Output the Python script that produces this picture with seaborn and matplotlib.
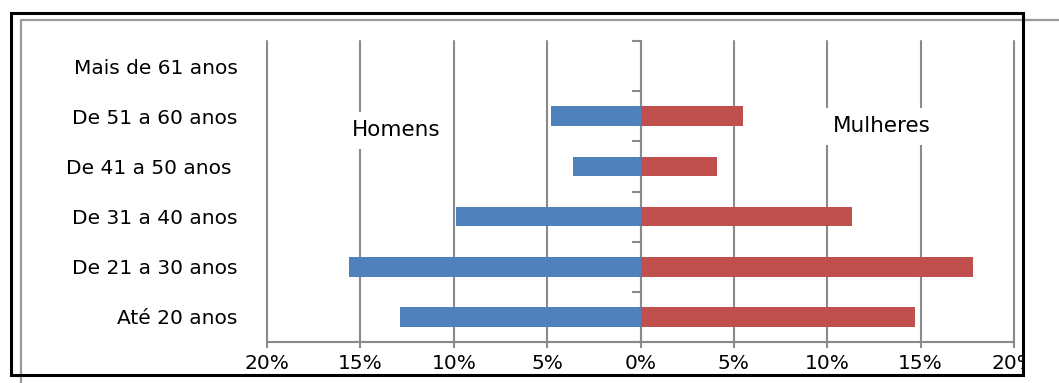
import numpy as np
import pandas as pd
import matplotlib
matplotlib.use("Agg")
import matplotlib.pyplot as plt
import seaborn as sns
from matplotlib.ticker import FuncFormatter
from matplotlib.patches import Rectangle
from matplotlib.lines import Line2D

categories = ["Mais de 61 anos", "De 51 a 60 anos", "De 41 a 50 anos ",
              "De 31 a 40 anos", "De 21 a 30 anos", "Até 20 anos"]
homens = [0.0, 4.8, 3.6, 9.9, 15.6, 12.9]
mulheres = [0.0, 5.5, 4.1, 11.3, 17.8, 14.7]
xticks = [-20, -15, -10, -5, 0, 5, 10, 15, 20]
groups = ["Homens", "Mulheres"]
colors = {"Homens": "#4F81BD", "Mulheres": "#C0504D"}

sns.set_theme(style="white")
plt.rcParams["font.family"] = ["DejaVu Sans"]

W, H = 1059, 383
fig = plt.figure(figsize=(W / 100, H / 100), dpi=100)
ax = fig.add_axes([267 / W, 1 - 342 / H, (1014 - 267) / W, (342 - 41) / H])

df = pd.DataFrame({
    "cat": categories * 2,
    "val": [-v for v in homens] + mulheres,
    "sexo": [groups[0]] * len(categories) + [groups[1]] * len(categories),
})
sns.barplot(data=df, y="cat", x="val", hue="sexo", order=categories,
            palette=colors, dodge=False, width=0.39, ax=ax, legend=False,
            saturation=1, linewidth=0)

grid_c = "#8a8a8a"
ax.set_xlim(-20, 20)
ax.set_ylim(len(categories) - 0.5, -0.5)
ax.set_xticks(xticks)
ax.xaxis.set_major_formatter(FuncFormatter(lambda v, p: f"{abs(int(round(v)))}%"))
ax.set_axisbelow(True)
ax.xaxis.grid(True, color=grid_c, linewidth=1.5)
ax.yaxis.grid(False)
for gl in ax.get_xgridlines():
    gl.set_clip_on(False)
for s in ["left", "right", "top"]:
    ax.spines[s].set_visible(False)
ax.spines["bottom"].set_color(grid_c)
ax.spines["bottom"].set_linewidth(1.5)
ax.tick_params(axis="x", direction="out", length=4.5, width=1.5, color=grid_c,
               labelsize=14.5, pad=4, labelcolor="black", bottom=True)
ax.tick_params(axis="y", length=0, labelsize=14.5, pad=21, labelcolor="black")
ax.set_xlabel("")
ax.set_ylabel("")

sec = ax.secondary_yaxis(0.5)
sec.set_yticks(np.arange(-0.5, len(categories), 1.0))
sec.set_yticklabels([])
sec.yaxis.set_ticks_position("left")
sec.tick_params(axis="y", direction="out", length=6.5, width=1.5, color=grid_c)
for s in sec.spines.values():
    s.set_color(grid_c)
    s.set_linewidth(1.5)

box = dict(boxstyle="square,pad=0.4", facecolor="white", edgecolor="none")
ax.text(-13.1, 1.28, groups[0], ha="center", va="center", fontsize=15.5,
        color="black", bbox=box, zorder=5)
ax.text(12.9, 1.2, groups[1], ha="center", va="center", fontsize=15.5,
        color="black", bbox=box, zorder=5)

# cover beyond the right frame (clips the last tick label)
fig.patches.append(Rectangle((1024.5 / W, 0), (W - 1024.5) / W, 1 - 22 / H,
                             transform=fig.transFigure, facecolor="white",
                             edgecolor="none", zorder=10))
# grey outer chart border
fig.lines.append(Line2D([21 / W, 21 / W, 1.0], [0.0, 1 - 20 / H, 1 - 20 / H],
                        transform=fig.transFigure, color="#9a9a9a",
                        linewidth=1.6, zorder=11))
# black frame
fig.patches.append(Rectangle((10.5 / W, 1 - 375 / H), (1023 - 10.5) / W, (375 - 13) / H,
                             transform=fig.transFigure, facecolor="none",
                             edgecolor="black", linewidth=2.2, zorder=12))

fig.savefig("out.png", dpi=100)
